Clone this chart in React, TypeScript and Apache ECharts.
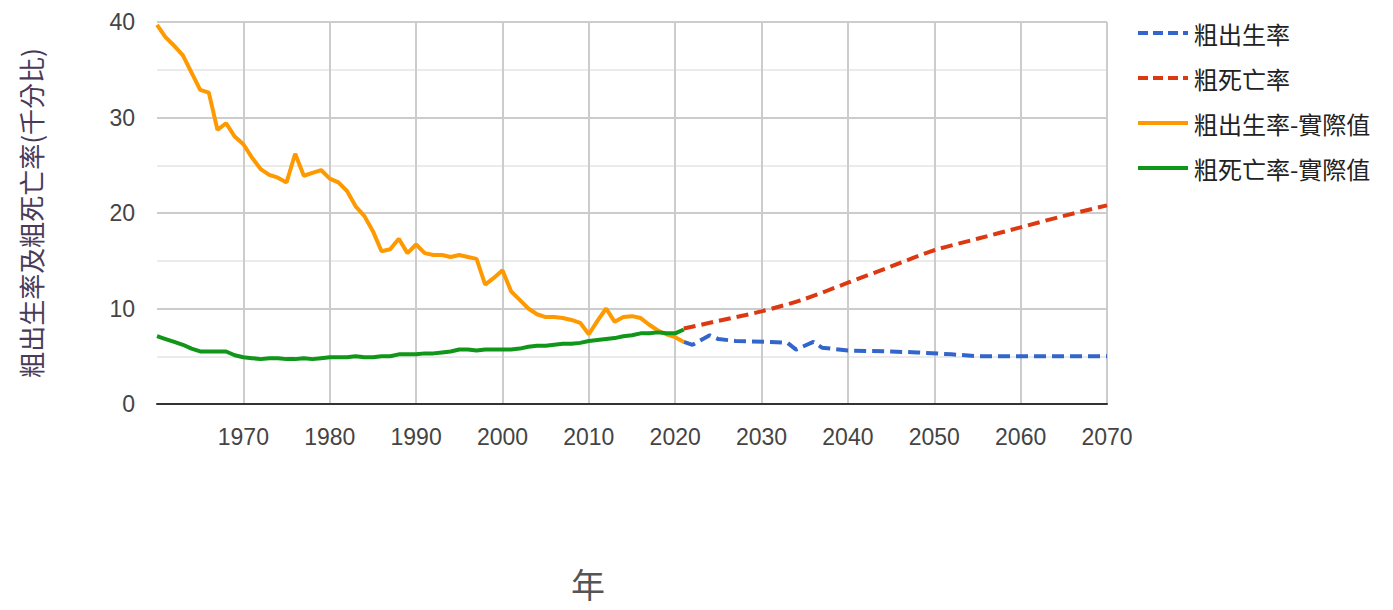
import React, { useEffect, useRef } from "react";
import * as echarts from "echarts";

const actualYears = [
  1960, 1961, 1962, 1963, 1964, 1965, 1966, 1967, 1968, 1969,
  1970, 1971, 1972, 1973, 1974, 1975, 1976, 1977, 1978, 1979,
  1980, 1981, 1982, 1983, 1984, 1985, 1986, 1987, 1988, 1989,
  1990, 1991, 1992, 1993, 1994, 1995, 1996, 1997, 1998, 1999,
  2000, 2001, 2002, 2003, 2004, 2005, 2006, 2007, 2008, 2009,
  2010, 2011, 2012, 2013, 2014, 2015, 2016, 2017, 2018, 2019,
  2020, 2021,
];
const birthActual = [
  39.7, 38.4, 37.5, 36.5, 34.7, 32.9, 32.6, 28.7, 29.4, 28.0,
  27.2, 25.8, 24.6, 24.0, 23.7, 23.2, 26.2, 23.9, 24.2, 24.5,
  23.6, 23.2, 22.3, 20.7, 19.7, 18.1, 16.0, 16.2, 17.3, 15.8,
  16.7, 15.8, 15.6, 15.6, 15.4, 15.6, 15.4, 15.2, 12.5, 13.2,
  14.0, 11.8, 10.9, 10.0, 9.4, 9.1, 9.1, 9.0, 8.8, 8.5,
  7.3, 8.7, 10.0, 8.6, 9.1, 9.2, 9.0, 8.3, 7.7, 7.3,
  7.0, 6.5,
];
const deathActual = [
  7.1, 6.8, 6.5, 6.2, 5.8, 5.5, 5.5, 5.5, 5.5, 5.1,
  4.9, 4.8, 4.7, 4.8, 4.8, 4.7, 4.7, 4.8, 4.7, 4.8,
  4.9, 4.9, 4.9, 5.0, 4.9, 4.9, 5.0, 5.0, 5.2, 5.2,
  5.2, 5.3, 5.3, 5.4, 5.5, 5.7, 5.7, 5.6, 5.7, 5.7,
  5.7, 5.7, 5.8, 6.0, 6.1, 6.1, 6.2, 6.3, 6.3, 6.4,
  6.6, 6.7, 6.8, 6.9, 7.1, 7.2, 7.4, 7.4, 7.5, 7.4,
  7.4, 7.8,
];

const birthProjYears = [2021, 2022, 2024, 2025, 2027, 2031, 2033, 2034, 2036, 2037, 2040, 2045, 2048, 2052, 2055, 2060, 2065, 2070];
const birthProj = [6.5, 6.2, 7.2, 6.8, 6.6, 6.5, 6.4, 5.7, 6.5, 5.9, 5.6, 5.5, 5.4, 5.2, 5.0, 5.0, 5.0, 5.0];

const deathProjYears = [2021, 2025, 2030, 2035, 2040, 2045, 2050, 2055, 2060, 2065, 2070];
const deathProj = [7.9, 8.7, 9.7, 11.0, 12.7, 14.4, 16.1, 17.3, 18.5, 19.7, 20.8];

const seriesNames = ["粗出生率", "粗死亡率", "粗出生率-實際值", "粗死亡率-實際值"];
const seriesColors = ["#3366cc", "#dc3912", "#ff9900", "#109618"];
const yAxisTitle = "粗出生率及粗死亡率(千分比)";
const xAxisTitle = "年";

const pair = (xs: number[], ys: number[]) => xs.map((x, i) => [x, ys[i]]);

const dashIcon = "path://M0,0h10v4h-10zM15,0h10v4h-10zM30,0h10v4h-10zM45,0h5v4h-5z";
const solidIcon = "path://M0,0h50v4h-50z";

export default function App() {
  const ref = useRef<HTMLDivElement>(null);
  useEffect(() => {
    document.body.style.margin = "0";
    if (!ref.current) return;
    const chart = echarts.init(ref.current, undefined, { renderer: "svg" });
    const cjk = "'Noto Sans CJK TC', 'Noto Sans', sans-serif";
    const num = "'Liberation Sans', Arial, sans-serif";
    const dash = [12, 6];
    chart.setOption({
      animation: false,
      backgroundColor: "#ffffff",
      grid: { left: 157, right: 286, top: 22, bottom: 206, containLabel: false },
      legend: {
        orient: "vertical",
        left: 1133,
        top: 15,
        itemWidth: 50,
        itemHeight: 4,
        itemGap: 19,
        data: [
          { name: seriesNames[0], icon: dashIcon },
          { name: seriesNames[1], icon: dashIcon },
          { name: seriesNames[2], icon: solidIcon },
          { name: seriesNames[3], icon: solidIcon },
        ],
        textStyle: { fontFamily: cjk, fontSize: 24, color: "#222", lineHeight: 26, padding: [0, 0, 0, 1] },
      },
      xAxis: {
        type: "value",
        min: 1960,
        max: 2070,
        interval: 10,
        axisLine: { show: true, lineStyle: { color: "#333", width: 2 } },
        axisTick: { show: false },
        axisLabel: {
          showMinLabel: false,
          margin: 21,
          fontFamily: num,
          fontSize: 23,
          color: "#444",
          formatter: (v: number) => String(v),
        },
        splitLine: { show: true, showMinLine: false, lineStyle: { color: "#cccccc", width: 2 } },
      },
      yAxis: {
        type: "value",
        min: 0,
        max: 40,
        interval: 10,
        name: yAxisTitle,
        nameLocation: "middle",
        nameRotate: 90,
        nameGap: 114,
        nameTextStyle: { fontFamily: cjk, fontSize: 26, color: "#4a3a58" },
        axisLine: { show: false },
        axisTick: { show: false },
        axisLabel: { margin: 22, fontFamily: num, fontSize: 23, color: "#444" },
        splitLine: { show: true, lineStyle: { color: "#cccccc", width: 2 } },
        minorTick: { show: false, splitNumber: 2 },
        minorSplitLine: { show: true, lineStyle: { color: "#ebebeb", width: 2 } },
      },
      graphic: [
        {
          type: "text",
          left: 571,
          top: 566,
          style: { text: xAxisTitle, font: `34px ${cjk}`, fill: "#555" },
        },
      ],
      series: [
        {
          name: seriesNames[0],
          type: "line",
          data: pair(birthProjYears, birthProj),
          symbol: "none",
          color: seriesColors[0],
          lineStyle: { color: seriesColors[0], width: 4, type: dash },
          z: 2,
        },
        {
          name: seriesNames[1],
          type: "line",
          data: pair(deathProjYears, deathProj),
          symbol: "none",
          smooth: 0.3,
          color: seriesColors[1],
          lineStyle: { color: seriesColors[1], width: 4, type: dash },
          z: 2,
        },
        {
          name: seriesNames[2],
          type: "line",
          data: pair(actualYears, birthActual),
          symbol: "none",
          color: seriesColors[2],
          lineStyle: { color: seriesColors[2], width: 4 },
          z: 3,
        },
        {
          name: seriesNames[3],
          type: "line",
          data: pair(actualYears, deathActual),
          symbol: "none",
          color: seriesColors[3],
          lineStyle: { color: seriesColors[3], width: 4 },
          z: 3,
        },
      ],
    });
    return () => chart.dispose();
  }, []);
  return <div ref={ref} style={{ width: 1393, height: 610 }} />;
}
